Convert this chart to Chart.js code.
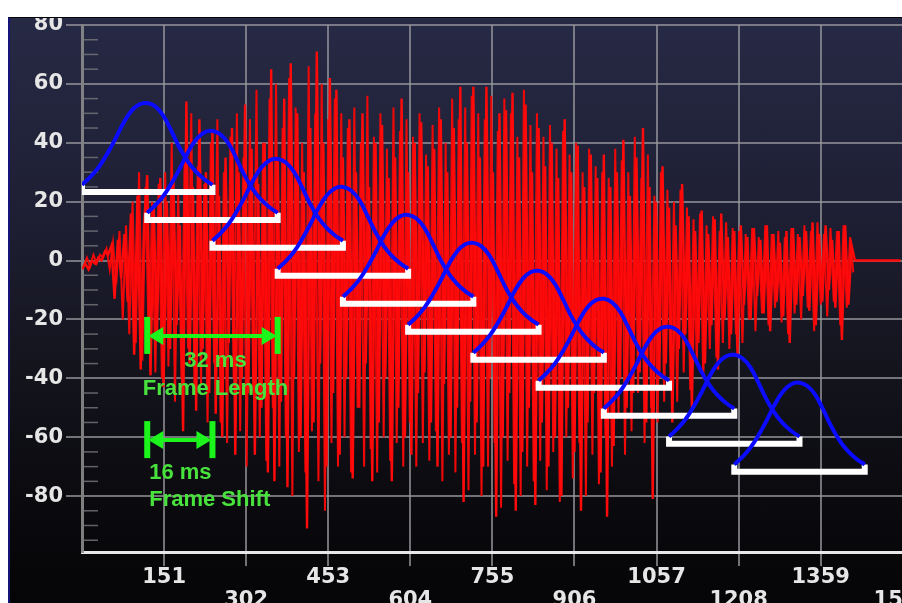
<!DOCTYPE html>
<html>
<head>
<meta charset="utf-8">
<script src="https://cdn.jsdelivr.net/npm/chart.js@4.4.1/dist/chart.umd.min.js"></script>
<style>
html, body { margin:0; padding:0; background:#ffffff; overflow:hidden; width:902px; height:603px; }
#frame {
  position:absolute; left:8px; top:17px; width:894px; height:586px; overflow:hidden;
  box-sizing:border-box; border-left:2px solid #14147a; border-top:1px solid #050508;
  background:linear-gradient(to bottom, #272a45 0%, #1f2036 30%, #15151f 58%, #0b0b10 80%, #050507 100%);
}
#c { position:absolute; left:0; top:-11px; }
</style>
</head>
<body>
<div id="frame"><canvas id="c" width="923" height="596"></canvas></div>
<script>
// ---------------- data ----------------
const sampleStep = 6;     // x units between waveform samples
const interleaveOffset = 3; // second sample set sits half-way between the first
const waveValues = [
  -3, -1, -3, 0, -1, 1, 0, 3, 2, 5,
  -13, 7, -6, 9, -14, 16, -32, 22, -37, 12,
  29, -39, 18, -25, 28, -43, 20, -30, 28, -22, 12, -58, 54, -35, 25, -51, 48, -30, 30, -45,
  44, -52, 22, -60, 35, -28, 45, -66, 30, -40, 53, -45, 38, -66, 26, -50, 40, -72, 65, -75,
  35, -48, 55, -77, 67, -40, 50, -60, 30, -91, 45, -55, 71, -35, 40, -70, 62, -45, 58, -66,
  35, -40, 48, -74, 30, -50, 50, -35, 25, -75, 40, -55, 46, -40, 28, -75, 35, -50, 55, -60,
  30, -66, 40, -45, 47, -38, 32, -55, 38, -70, 48, -42, 30, -60, 45, -50, 59, -82, 40, -48,
  59, -55, 35, -70, 59, -40, 30, -87, 50, -60, 51, -45, 57, -85, 35, -65, 53, -50, 30, -83,
  45, -55, 32, -70, 40, -60, 28, -80, 48, -50, 30, -65, 39, -85, 25, -55, 36, -45, 28, -72,
  36, -87, 25, -63, 30, -40, 41, -50, 22, -45, 35, -38, 45, -55, 25, -81, 20, -40, 32, -35,
  18, -55, 12, -30, 26, -25, 15, -50, 10, -28, 17, -35, 9, -22, 14, -37, 16, -20, 8, -25,
  10, -32, 12, -15, 8, -20, 11, -12, 7, -18, 12, -24, 9, -14, 6, -19, 10, -28, 11, -15,
  8, -12, 10, -17, 13, -22, 9, -14, 12, -10, 7, -16, 10, -27, 12, -15, 5,
  0, 0, 0, 0, 0, 0, 0, 0, 0, 0, 0, 0, 0, 0, 0
];
const waveValuesMid = [
  -2, 1, -2, 2, -1, 2, 1, 4, -3, 6,
  -8, 10, -20, 12, -25, 20, -28, 30, -34, 25,
  -30, 20, -38, 26, -40, 30, -36, 40, -48, 24, -40, 36, -30, 50, -45, 32, -42, 26, -55, 40,
  -35, 48, -55, 30, -62, 42, -40, 50, -58, 35, -70, 48, -45, 58, -60, 40, -68, 55, -50, 60,
  -70, 45, -60, 62, -80, 52, -65, 40, -72, 66, -58, 50, -75, 60, -85, 48, -62, 55, -70, 50,
  -60, 45, -72, 52, -50, 40, -70, 56, -64, 42, -72, 50, -60, 38, -68, 52, -62, 44, -70, 48,
  -55, 42, -70, 50, -62, 36, -68, 46, -58, 52, -75, 40, -66, 55, -72, 48, -62, 52, -78, 56,
  -66, 50, -80, 48, -70, 56, -62, 44, -84, 55, -68, 50, -76, 42, -80, 58, -70, 46, -75, 50,
  -68, 42, -78, 46, -65, 38, -82, 44, -60, 36, -74, 40, -62, 30, -80, 38, -66, 32, -76, 30,
  -60, 28, -70, 38, -52, 34, -66, 30, -58, 42, -45, 28, -62, 36, -50, 22, -55, 30, -48, 24,
  -42, 20, -48, 24, -38, 18, -44, 14, -35, 16, -40, 12, -30, 15, -33, 10, -28, 13, -30, 11,
  -25, 10, -28, 9, -20, 11, -24, 8, -18, 12, -22, 9, -16, 10, -21, 8, -25, 11, -18, 9,
  -20, 12, -16, 10, -24, 13, -15, 9, -19, 11, -14, 10, -22, 12, -16, 8, -4
];
const xTickValues = [151, 302, 453, 604, 755, 906, 1057, 1208, 1359, 1510];
const yTickValues = [-80, -60, -40, -20, 0, 20, 40, 60, 80];
const yMinorStep = 5;

// analysis windows (frames)
const windowStarts = [0, 120, 240, 360, 480, 600, 720, 840, 960, 1080, 1200];
const windowLength = 240;
const windowBaselines = [23.3, 13.8, 4.3, -5.2, -14.7, -24.2, -33.7, -43.2, -52.7, -62.2, -71.7];
const windowShapeT = [0, 0.0625, 0.125, 0.1875, 0.25, 0.3125, 0.375, 0.4375, 0.5, 0.5625, 0.625, 0.6875, 0.75, 0.8125, 0.875, 0.9375, 1];
const windowShapeH = [2.4, 5.0, 8.2, 12.5, 17.5, 23.0, 27.3, 29.7, 30.2, 29.0, 25.8, 20.5, 14.8, 10.2, 6.8, 4.3, 2.4];
const bracketCap = 2.4;

// annotations
const frameLengthArrow = { x0: 120, x1: 360, y: -25.6, lines: ['32 ms', 'Frame Length'] };
const frameShiftArrow  = { x0: 120, x1: 240, y: -61.0, lines: ['16 ms', 'Frame Shift'] };

// ---------------- chart ----------------
const gridColor = 'rgba(150,150,155,0.75)';
const labelColor = '#e6e6e6';
const labelFont = { family: 'DejaVu Sans', size: 21, weight: 'bold', lineHeight: 1.05 };

const datasets = [];
windowStarts.forEach((s, k) => {
  const b = windowBaselines[k];
  datasets.push({
    data: windowShapeT.map((t, j) => ({ x: s + t * windowLength, y: b + windowShapeH[j] })),
    borderColor: '#0b0bff', borderWidth: 4, pointRadius: 0,
    tension: 0.4, order: 0
  });
});
windowStarts.forEach((s, k) => {
  const b = windowBaselines[k];
  datasets.push({
    data: [{ x: s, y: b + bracketCap }, { x: s, y: b }, { x: s + windowLength, y: b }, { x: s + windowLength, y: b + bracketCap }],
    borderColor: '#ffffff', borderWidth: 6, pointRadius: 0, tension: 0,
    borderJoinStyle: 'miter', order: 1
  });
});
datasets.push({
  data: waveValues.map((v, i) => ({ x: i * sampleStep, y: v })),
  borderColor: '#ff0a0a', borderWidth: 2.4, pointRadius: 0, tension: 0,
  borderJoinStyle: 'miter', order: 2
});
datasets.push({
  data: waveValuesMid.map((v, i) => ({ x: i * sampleStep + interleaveOffset, y: v })),
  borderColor: '#f00808', borderWidth: 2.0, pointRadius: 0, tension: 0,
  borderJoinStyle: 'miter', order: 3
});

const minorTicks = {
  id: 'minorTicks',
  beforeDatasetsDraw(chart) {
    const ys = chart.scales.y, ctx = chart.ctx, left = chart.chartArea.left;
    ctx.save();
    ctx.strokeStyle = 'rgba(120,120,125,0.8)';
    ctx.lineWidth = 1.5;
    for (let v = Math.ceil(ys.min / yMinorStep) * yMinorStep; v < ys.max; v += yMinorStep) {
      if (v % 20 === 0) continue;
      const py = ys.getPixelForValue(v);
      ctx.beginPath(); ctx.moveTo(left, py); ctx.lineTo(left + 16, py); ctx.stroke();
    }
    ctx.restore();
  }
};

function drawArrow(chart, a, textMode) {
  const xs = chart.scales.x, ys = chart.scales.y, ctx = chart.ctx;
  const p0 = xs.getPixelForValue(a.x0), p1 = xs.getPixelForValue(a.x1), py = ys.getPixelForValue(a.y);
  ctx.save();
  ctx.fillStyle = '#1cf51c';
  ctx.strokeStyle = '#1cf51c';
  ctx.fillRect(p0 - 3, py - 19, 6, 37);
  ctx.fillRect(p1 - 3, py - 19, 6, 37);
  ctx.lineWidth = 4;
  ctx.beginPath(); ctx.moveTo(p0 + 8, py); ctx.lineTo(p1 - 8, py); ctx.stroke();
  ctx.beginPath(); ctx.moveTo(p0 + 1, py); ctx.lineTo(p0 + 16, py - 9); ctx.lineTo(p0 + 16, py + 9); ctx.closePath(); ctx.fill();
  ctx.beginPath(); ctx.moveTo(p1 - 1, py); ctx.lineTo(p1 - 16, py - 9); ctx.lineTo(p1 - 16, py + 9); ctx.closePath(); ctx.fill();
  ctx.fillStyle = '#48e23c';
  ctx.font = 'bold 22px "Liberation Sans", Arial, sans-serif';
  ctx.textBaseline = 'alphabetic';
  if (textMode === 'center') {
    ctx.textAlign = 'center';
    const cx = (p0 + p1) / 2 + 3;
    ctx.fillText(a.lines[0], cx, py + 31);
    ctx.fillText(a.lines[1], cx, py + 59);
  } else {
    ctx.textAlign = 'left';
    ctx.fillText(a.lines[0], p0 + 2, py + 39);
    ctx.fillText(a.lines[1], p0 + 2, py + 66);
  }
  ctx.restore();
}

const annotationsPlugin = {
  id: 'frameAnnotations',
  afterDatasetsDraw(chart) {
    drawArrow(chart, frameLengthArrow, 'center');
    drawArrow(chart, frameShiftArrow, 'left');
  }
};

new Chart(document.getElementById('c'), {
  type: 'line',
  data: { datasets },
  options: {
    responsive: false,
    animation: false,
    devicePixelRatio: 1,
    layout: { padding: { top: 18, right: 30, bottom: 0, left: 0 } },
    plugins: { legend: { display: false }, tooltip: { enabled: false } },
    scales: {
      x: {
        type: 'linear', min: 0, max: 1510,
        afterBuildTicks: s => { s.ticks = xTickValues.map(v => ({ value: v })); },
        afterFit: s => { s.height = 51; },
        ticks: {
          autoSkip: false, maxRotation: 0, minRotation: 0, padding: 1,
          color: labelColor, font: labelFont,
          callback: (v, i) => (i % 2 === 0 ? [String(v), ''] : ['', String(v)])
        },
        grid: { color: gridColor, lineWidth: 2, tickLength: 14, tickColor: gridColor },
        border: { color: '#e8e8e8', width: 3 }
      },
      y: {
        type: 'linear', min: -99, max: 80,
        afterBuildTicks: s => { s.ticks = yTickValues.map(v => ({ value: v })); },
        afterFit: s => { s.width = 72; },
        ticks: { color: labelColor, font: labelFont, padding: 3 },
        grid: { color: gridColor, lineWidth: 2, tickLength: 16, tickColor: gridColor },
        border: { color: 'rgba(140,140,140,0.9)', width: 3 }
      }
    }
  },
  plugins: [minorTicks, annotationsPlugin]
});
</script>
</body>
</html>
